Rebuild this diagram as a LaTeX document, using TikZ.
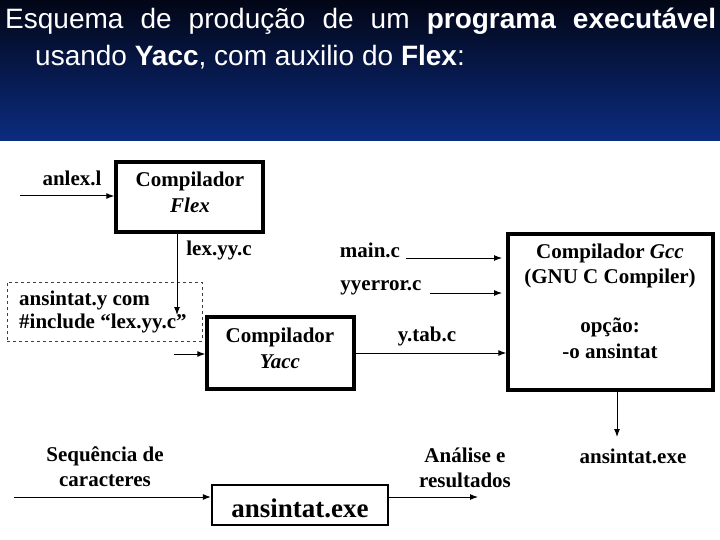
\documentclass[tikz,border=0pt]{standalone}
\usepackage{fontspec}
\setmainfont{Liberation Serif}
\newfontfamily\hdr{Liberation Sans}
\usetikzlibrary{arrows.meta}
\begin{document}
\begin{tikzpicture}[x=1pt,y=-1pt,
  box/.style={draw=black, line width=3.4pt, inner sep=0pt},
  dbox/.style={draw=black!75, dashed, line width=1pt, inner sep=0pt},
  txt/.style={inner sep=0pt, font=\fontsize{21}{25}\selectfont\bfseries},
  arr/.style={draw=black, line width=1pt, -{Latex[length=8pt,width=6pt]}}
]
\useasboundingbox (0,0) rectangle (720,540);
\fill[white] (0,0) rectangle (720,540);
\shade[top color={rgb,255:red,2;green,6;blue,22}, bottom color={rgb,255:red,12;green,44;blue,128}] (0,0) rectangle (720,141);

% title
\node[anchor=base west, inner sep=0pt, text=white] (t1) at (5,29)
  {\hdr\fontsize{28}{34}\selectfont\makebox[711pt][s]{Esquema de produção de um \textbf{programa executável}}};
\node[anchor=base west, inner sep=0pt, text=white] (t2) at (35,66)
  {\hdr\fontsize{28}{34}\selectfont usando \textbf{Yacc}, com auxilio do \textbf{Flex}:};

% boxes
\node[box, minimum width=147pt, minimum height=70pt] (flex) at (189.5,197) {};
\node[txt] (flex1) at (190,181) {Compilador};
\node[txt] (flex2) at (190,205) {\itshape Flex};

\node[dbox, minimum width=195pt, minimum height=59pt] (dash) at (104.5,311.5) {};
\node[txt, anchor=west] (d1) at (19,300) {ansintat.y com};
\node[txt, anchor=west] (d2) at (19,323) {\#include “lex.yy.c”};

\node[box, minimum width=147pt, minimum height=72pt] (yacc) at (280.5,353) {};
\node[txt] (yacc1) at (280,337) {Compilador};
\node[txt] (yacc2) at (280,362) {\itshape Yacc};

\node[box, minimum width=205pt, minimum height=156pt] (gcc) at (610.5,312) {};
\node[txt] (g1) at (610,253) {Compilador \itshape Gcc};
\node[txt] (g2) at (610,278) {(GNU C Compiler)};
\node[txt] (g3) at (610,327) {opção:};
\node[txt] (g4) at (610,351) {-o ansintat};

\node[draw=black, line width=2.2pt, minimum width=176pt, minimum height=40pt, inner sep=0pt] (exe) at (300,505) {};
\node[inner sep=0pt, font=\fontsize{27}{32}\selectfont\bfseries] (exet) at (300,508) {ansintat.exe};

% labels
\node[txt] (lanlex) at (72,178) {anlex.l};
\node[txt] (llex) at (219,250) {lex.yy.c};
\node[txt] (lmain) at (370,250) {main.c};
\node[txt] (lyyerr) at (381,288) {yyerror.c};
\node[txt] (lytab) at (427,336) {y.tab.c};
\node[txt] (lexe) at (633,456) {ansintat.exe};
\node[txt, align=center] (lseq) at (105,467) {Sequência de\\caracteres};
\node[txt, align=center] (lana) at (465,468) {Análise e\\resultados};

% connectors
\coordinate (anlexs) at (20,196);
\draw[arr] (anlexs) -- (anlexs -| flex.west);
\coordinate (lexend) at (177,315);
\draw[arr] (flex.south -| lexend) -- (lexend);
\coordinate (yin) at (174,354);
\draw[arr] (yin) -- (yin -| yacc.west);
\coordinate (mcs) at (406,258);
\coordinate (mce) at (502,258);
\draw[arr] (mcs) -- (mce);
\coordinate (yes) at (430,293);
\coordinate (yee) at (502,293);
\draw[arr] (yes) -- (yee);
\draw[arr] (yacc.east) -- (yacc.east -| gcc.west);
\coordinate (gd) at (617,437);
\draw[arr] (gcc.south -| gd) -- (gd);
\coordinate (seqs) at (14,497);
\draw[arr] (seqs) -- (seqs -| exe.west);
\coordinate (anae) at (478,497);
\draw[arr] (exe.east |- anae) -- (anae);
\end{tikzpicture}
\end{document}
